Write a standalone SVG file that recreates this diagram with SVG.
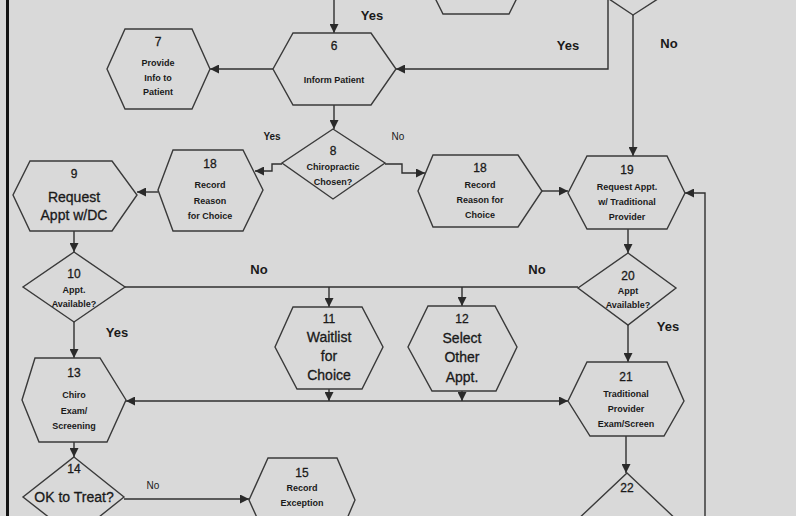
<svg xmlns="http://www.w3.org/2000/svg" width="796" height="516" viewBox="0 0 796 516">
<defs>
<marker id="arr" viewBox="0 0 10 10" refX="10" refY="5" markerWidth="9" markerHeight="9" markerUnits="userSpaceOnUse" orient="auto-start-reverse">
<path d="M0,0 L10,5 L0,10 z" fill="#2a2a2a"/>
</marker>
<style>
.shape{fill:none;stroke:#3a3a3a;stroke-width:1.4}
.c{fill:none;stroke:#2f2f2f;stroke-width:1.4}
text{font-family:"Liberation Sans",Arial,sans-serif;fill:#1a1a1a;text-anchor:middle}
.n{font-size:12px;stroke:#1a1a1a;stroke-width:0.3}
.s{font-size:9px;font-weight:bold}
.l{font-size:14px;stroke:#1a1a1a;stroke-width:0.3}
.lab{font-size:13px;font-weight:bold}
.labs{font-size:10px}
</style>
</defs>
<rect x="0" y="0" width="796" height="516" fill="#d9d9d9"/>
<rect x="6" y="0" width="3" height="516" fill="#151515"/>

<g id="partial-top">
<polyline class="shape" points="433,-6 443,14 509,14 519,-6"/>
<polyline class="shape" points="603,-5 633,15 664,-5"/>
</g>

<g id="connectors">
<path class="c" d="M334,0 V33" marker-end="url(#arr)"/>
<path class="c" d="M608,0 V69 H396" marker-end="url(#arr)"/>
<path class="c" d="M273,69 H210" marker-end="url(#arr)"/>
<path class="c" d="M334,105 V129" marker-end="url(#arr)"/>
<path class="c" d="M282,164 H272 V171 H255" marker-end="url(#arr)"/>
<path class="c" d="M385,164 H402 V173 H425" marker-end="url(#arr)"/>
<path class="c" d="M633,15 V156" marker-end="url(#arr)"/>
<path class="c" d="M542,191 H568" marker-end="url(#arr)"/>
<path class="c" d="M158,192 H137" marker-end="url(#arr)"/>
<path class="c" d="M74,231 V252" marker-end="url(#arr)"/>
<path class="c" d="M125,287 H578"/>
<path class="c" d="M329,287 V307" marker-end="url(#arr)"/>
<path class="c" d="M462,287 V306" marker-end="url(#arr)"/>
<path class="c" d="M628,229 V253" marker-end="url(#arr)"/>
<path class="c" d="M628,325 V362" marker-end="url(#arr)"/>
<path class="c" d="M74,322 V358" marker-end="url(#arr)"/>
<path class="c" d="M126,401 H568" marker-start="url(#arr)" marker-end="url(#arr)"/>
<path class="c" d="M329,389 V401" marker-end="url(#arr)"/>
<path class="c" d="M462,391 V401" marker-end="url(#arr)"/>
<path class="c" d="M626,436 V473" marker-end="url(#arr)"/>
<path class="c" d="M74,442 V457" marker-end="url(#arr)"/>
<path class="c" d="M124,499 H249" marker-end="url(#arr)"/>
<path class="c" d="M705,516 V193 H685" marker-end="url(#arr)"/>
</g>

<g id="labels">
<text class="lab" x="372" y="20">Yes</text>
<text class="lab" x="568" y="50">Yes</text>
<text class="lab" x="669" y="48">No</text>
<text class="labs" x="272" y="140" font-weight="bold">Yes</text>
<text class="labs" x="398" y="140">No</text>
<text class="lab" x="259" y="274">No</text>
<text class="lab" x="537" y="274">No</text>
<text class="lab" x="117" y="337">Yes</text>
<text class="lab" x="668" y="331">Yes</text>
<text class="labs" x="153" y="489">No</text>
</g>

<g id="node6">
<polygon class="shape" points="293,33 371,33 396,69 371,105 293,105 273,69"/>
<text class="n" x="334" y="50">6</text>
<text class="s" x="334" y="83">Inform Patient</text>
</g>
<g id="node7">
<polygon class="shape" points="125,29 192,29 210,69 192,109 125,109 107,69"/>
<text class="n" x="158" y="46">7</text>
<text class="s" x="158" y="66">Provide</text>
<text class="s" x="158" y="81">Info to</text>
<text class="s" x="158" y="95">Patient</text>
</g>
<g id="node8">
<polygon class="shape" points="333,129 385,163 333,199 282,163"/>
<text class="n" x="333" y="155">8</text>
<text class="s" x="333" y="170">Chiropractic</text>
<text class="s" x="333" y="185">Chosen?</text>
</g>
<g id="node18a">
<polygon class="shape" points="173,150 243,150 263,190 243,231 173,231 158,190"/>
<text class="n" x="210" y="168">18</text>
<text class="s" x="210" y="188">Record</text>
<text class="s" x="210" y="204">Reason</text>
<text class="s" x="210" y="219">for Choice</text>
</g>
<g id="node18b">
<polygon class="shape" points="433,155 518,155 542,191 518,227 433,227 418,191"/>
<text class="n" x="480" y="172">18</text>
<text class="s" x="480" y="188">Record</text>
<text class="s" x="480" y="203">Reason for</text>
<text class="s" x="480" y="218">Choice</text>
</g>
<g id="node19">
<polygon class="shape" points="587,156 667,156 685,193 667,229 587,229 568,193"/>
<text class="n" x="627" y="174">19</text>
<text class="s" x="627" y="190">Request Appt.</text>
<text class="s" x="627" y="205">w/ Traditional</text>
<text class="s" x="627" y="220">Provider</text>
</g>
<g id="node9">
<polygon class="shape" points="30,161 112,161 137,195 112,231 30,231 13,195"/>
<text class="n" x="74" y="178">9</text>
<text class="l" x="74" y="202">Request</text>
<text class="l" x="74" y="220">Appt w/DC</text>
</g>
<g id="node10">
<polygon class="shape" points="74,252 125,287 74,322 23,287"/>
<text class="n" x="74" y="278">10</text>
<text class="s" x="74" y="293">Appt.</text>
<text class="s" x="74" y="307">Available?</text>
</g>
<g id="node20">
<polygon class="shape" points="628,253 676,288 628,325 578,288"/>
<text class="n" x="628" y="280">20</text>
<text class="s" x="628" y="294">Appt</text>
<text class="s" x="628" y="308">Available?</text>
</g>
<g id="node11">
<polygon class="shape" points="293,307 362,307 383,347 362,389 297,389 275,347"/>
<text class="n" x="329" y="323">11</text>
<text class="l" x="329" y="342">Waitlist</text>
<text class="l" x="329" y="361">for</text>
<text class="l" x="329" y="380">Choice</text>
</g>
<g id="node12">
<polygon class="shape" points="428,306 495,306 517,347 496,391 432,391 408,347"/>
<text class="n" x="462" y="323">12</text>
<text class="l" x="462" y="343">Select</text>
<text class="l" x="462" y="362">Other</text>
<text class="l" x="462" y="382">Appt.</text>
</g>
<g id="node13">
<polygon class="shape" points="35,358 100,358 126,400 107,442 39,442 22,400"/>
<text class="n" x="74" y="377">13</text>
<text class="s" x="74" y="398">Chiro</text>
<text class="s" x="74" y="414">Exam/</text>
<text class="s" x="74" y="429">Screening</text>
</g>
<g id="node21">
<polygon class="shape" points="587,362 667,362 684,401 664,436 590,436 568,401"/>
<text class="n" x="626" y="381">21</text>
<text class="s" x="626" y="397">Traditional</text>
<text class="s" x="626" y="412">Provider</text>
<text class="s" x="626" y="427">Exam/Screen</text>
</g>
<g id="node14">
<polygon class="shape" points="74,457 124,497 74,537 23,497"/>
<text class="n" x="74" y="473">14</text>
<text class="l" x="74" y="502">OK to Treat?</text>
</g>
<g id="node15">
<polygon class="shape" points="268,458 337,458 355,500 337,542 268,542 249,500"/>
<text class="n" x="302" y="477">15</text>
<text class="s" x="302" y="491">Record</text>
<text class="s" x="302" y="506">Exception</text>
</g>
<g id="node22">
<polygon class="shape" points="627,473 680,523 627,573 574,523"/>
<text class="n" x="627" y="492">22</text>
</g>
</svg>
